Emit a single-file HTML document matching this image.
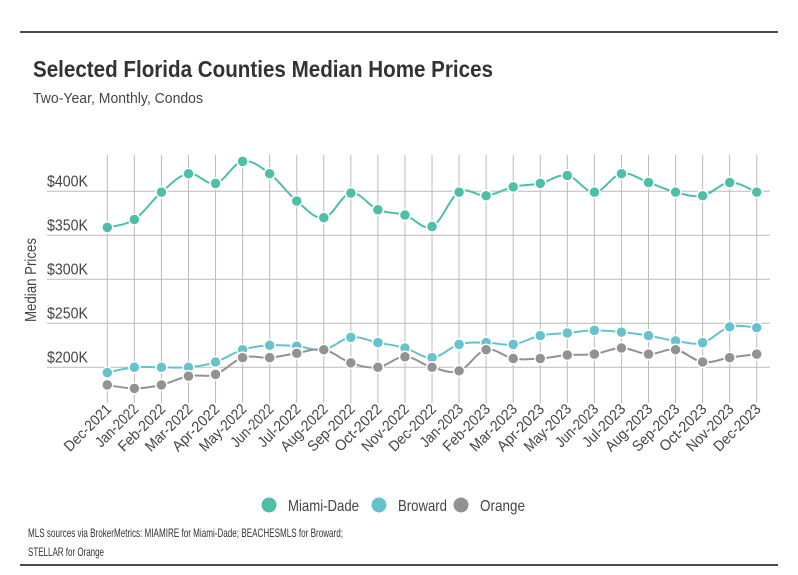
<!DOCTYPE html>
<html><head><meta charset="utf-8"><style>
body{margin:0;background:#fff;}
svg{display:block;font-family:"Liberation Sans Narrow","Liberation Sans",sans-serif;}
</style></head><body>
<svg id="chart" width="798" height="575" viewBox="0 0 798 575">
<line x1="20" y1="32" x2="778" y2="32" stroke="#111" stroke-width="1.5"/>
<text x="33" y="77" font-size="23" font-weight="bold" fill="#333" textLength="460" lengthAdjust="spacingAndGlyphs">Selected Florida Counties Median Home Prices</text>
<text x="33" y="103" font-size="15" fill="#444" textLength="170" lengthAdjust="spacingAndGlyphs">Two-Year, Monthly, Condos</text>
<g id="grid"></g>
<g id="series"></g>
<text transform="translate(36,280) rotate(-90)" text-anchor="middle" font-size="16" fill="#444" textLength="84" lengthAdjust="spacingAndGlyphs">Median Prices</text>
<g id="legend"></g>
<text x="28" y="537" font-size="12" fill="#333" textLength="315" lengthAdjust="spacingAndGlyphs">MLS sources via BrokerMetrics: MIAMIRE for Miami-Dade; BEACHESMLS for Broward;</text>
<text x="28" y="556" font-size="12" fill="#333" textLength="76" lengthAdjust="spacingAndGlyphs">STELLAR for Orange</text>
<line x1="20" y1="565" x2="778" y2="565" stroke="#111" stroke-width="1.5"/>
</svg>
<script>
const months = ["Dec-2021","Jan-2022","Feb-2022","Mar-2022","Apr-2022","May-2022","Jun-2022","Jul-2022","Aug-2022","Sep-2022","Oct-2022","Nov-2022","Dec-2022","Jan-2023","Feb-2023","Mar-2023","Apr-2023","May-2023","Jun-2023","Jul-2023","Aug-2023","Sep-2023","Oct-2023","Nov-2023","Dec-2023"];
const miamiDade = [359,368,399,420,409,434,420,389,370,398,379,373,360,399,395,405,409,418,399,420,410,399,395,410,399];
const broward = [194,200,200,200,206,220,225,224,220,234,228,222,211,226,228,226,236,239,242,240,236,230,228,246,245];
const orange = [180,176,180,190,192,211,211,216,220,205,200,212,200,196,220,210,210,214,215,222,215,220,206,211,215];
const yTicks = [200,250,300,350,400];
const yTickLabels = ["$200K","$250K","$300K","$350K","$400K"];
const seriesNames = ["Miami-Dade","Broward","Orange"];
const seriesColors = ["#4dbfa8","#66c2cc","#929292"];

const NS="http://www.w3.org/2000/svg";
const x = i => 107.3 + i*27.06;
const y = v => 367.3 - (v-200)*0.88;
function mk(tag, attrs, parent){const e=document.createElementNS(NS,tag);for(const k in attrs)e.setAttribute(k,attrs[k]);parent.appendChild(e);return e;}
const grid=document.getElementById('grid');
yTicks.forEach((t,i)=>{
  const l=mk('line',{x1:47,x2:770,y1:y(t),y2:y(t),stroke:'#bbb','stroke-width':1},grid);
  
  
  const tx=mk('text',{x:47,y:y(t)-5,'font-size':16,fill:'#444',textLength:41,lengthAdjust:'spacingAndGlyphs'},grid);
  tx.textContent=yTickLabels[i];
  
  
});
months.forEach((m,i)=>{
  const l=mk('line',{x1:x(i),x2:x(i),y1:155,y2:403,stroke:'#bbb','stroke-width':1},grid);
  
  
  const tx=mk('text',{transform:`translate(${x(i)+5},${410}) rotate(-45)`,'text-anchor':'end','font-size':15,fill:'#444',textLength:m.startsWith('Jul')||m.startsWith('Jun')||m.startsWith('Jan')?54:60,lengthAdjust:'spacingAndGlyphs'},grid);
  tx.textContent=m;
  
  
});
function path(vals){
  const p=vals.map((v,i)=>[x(i),y(v)]);
  let d=`M${p[0][0]},${p[0][1]}`;
  for(let i=0;i<p.length-1;i++){
    const p0=p[i-1]||p[i],p1=p[i],p2=p[i+1],p3=p[i+2]||p2;
    const t=0.18;
    d+=` C${p1[0]+(p2[0]-p0[0])*t},${p1[1]+(p2[1]-p0[1])*t} ${p2[0]-(p3[0]-p1[0])*t},${p2[1]-(p3[1]-p1[1])*t} ${p2[0]},${p2[1]}`;
  }
  return d;
}
const sg=document.getElementById('series');
[miamiDade,broward,orange].forEach((vals,s)=>{
  const g=mk('g',{},sg);
  
  
  const pl=mk('path',{d:path(vals),fill:'none',stroke:seriesColors[s],'stroke-width':2},g);
  
  
  vals.forEach((v,i)=>{
    const c=mk('circle',{cx:x(i),cy:y(v),r:5.5,fill:seriesColors[s],stroke:'#fff','stroke-width':1.5},g);
    
    
  });
});
const lg=document.getElementById('legend');
const lx=[269,379,461];
const lw=[71,49,45];
seriesNames.forEach((n,s)=>{
  const c=mk('circle',{cx:lx[s],cy:505,r:7.5,fill:seriesColors[s]},lg);
  
  
  const t=mk('text',{x:lx[s]+19,y:511,'font-size':16,fill:'#444',textLength:lw[s],lengthAdjust:'spacingAndGlyphs'},lg);
  t.textContent=n;
  
  
});
</script>
</body></html>
